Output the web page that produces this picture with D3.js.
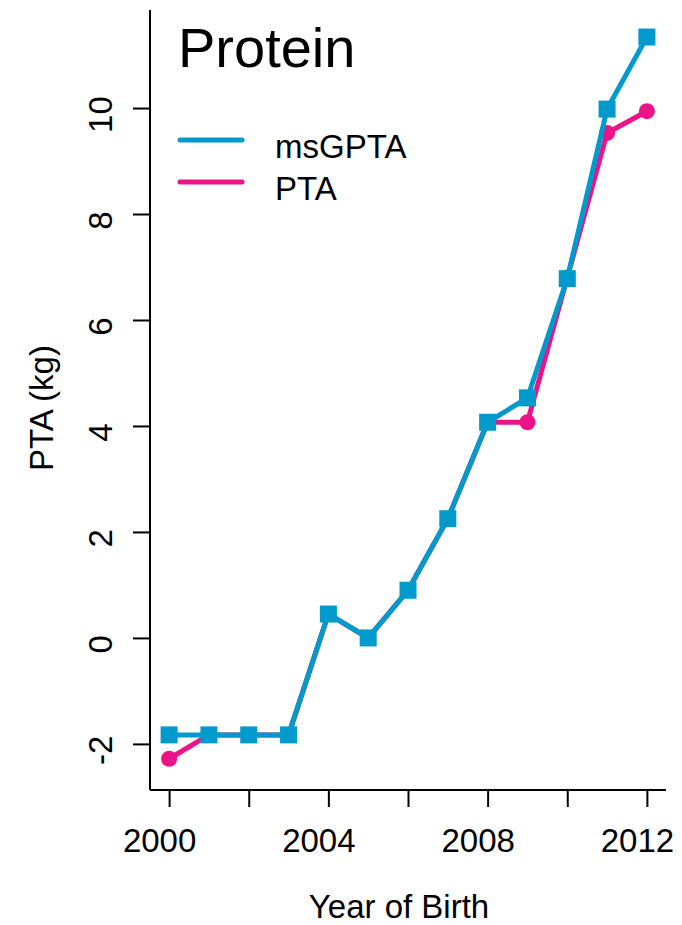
<!DOCTYPE html>
<html>
<head>
<meta charset="utf-8">
<script src="https://cdn.jsdelivr.net/npm/d3@7"></script>
<style>
  body { margin: 0; background: #fff; }
  svg text { font-family: "Liberation Sans", Arial, sans-serif; fill: #000; }
</style>
</head>
<body>
<svg width="682" height="925"></svg>
<script>
// data
var years = [2000, 2001, 2002, 2003, 2004, 2005, 2006, 2007, 2008, 2009, 2010, 2011, 2012];
var pta = [-2.28, -1.83, -1.83, -1.83, 0.45, 0.0, 0.9, 2.25, 4.07, 4.07, 6.8, 9.53, 9.94];
var msgpta = [-1.83, -1.83, -1.83, -1.83, 0.45, 0.0, 0.9, 2.25, 4.07, 4.53, 6.78, 9.98, 11.34];
var xTicks = [2000, 2002, 2004, 2006, 2008, 2010, 2012];
var xLabels = [2000, 2004, 2008, 2012];
var yTicks = [-2, 0, 2, 4, 6, 8, 10];

var blue = "#009ACD",   // deepskyblue3
    pink = "#EE1289";   // deeppink2

var svg = d3.select("svg"),
    pLeft = 150, pRight = 666, pTop = 10, pBottom = 790,
    fs = 33;

var x = d3.scaleLinear().domain([1999.52, 2012.48]).range([pLeft, pRight]),
    y = d3.scaleLinear().domain([-2.87, 11.85]).range([pBottom, pTop]);

// axes
var xAxis = svg.append("g")
    .attr("transform", "translate(0," + pBottom + ")")
    .call(d3.axisBottom(x).tickValues(xTicks).tickSize(17).tickSizeOuter(0)
        .tickFormat(function(d) { return xLabels.indexOf(d) >= 0 ? String(d) : ""; }));
xAxis.select(".domain").attr("d", "M" + pLeft + ",0H" + pRight);
xAxis.selectAll("line, path").attr("stroke", "#000").attr("stroke-width", 2);
xAxis.selectAll("text").attr("font-size", fs).attr("dy", null).attr("y", 62).attr("dx", -10);

var yAxis = svg.append("g")
    .attr("transform", "translate(" + pLeft + ",0)")
    .call(d3.axisLeft(y).tickValues(yTicks).tickSize(17).tickSizeOuter(0)
        .tickFormat(function(d) { return String(d); }));
yAxis.select(".domain").attr("d", "M0," + pTop + "V" + pBottom);
yAxis.selectAll("line, path").attr("stroke", "#000").attr("stroke-width", 2);
yAxis.selectAll("text")
    .attr("font-size", fs)
    .attr("x", null).attr("dy", null)
    .attr("text-anchor", "middle")
    .attr("transform", "translate(-38,6) rotate(-90)");

svg.selectAll(".domain").attr("fill", "none");

// axis titles
svg.append("text")
    .attr("x", (pLeft + pRight) / 2 - 9).attr("y", 918)
    .attr("text-anchor", "middle").attr("font-size", fs)
    .text("Year of Birth");
svg.append("text")
    .attr("transform", "translate(53," + 408 + ") rotate(-90)")
    .attr("text-anchor", "middle").attr("font-size", fs)
    .text("PTA (kg)");

// lines
var line = d3.line()
    .x(function(d, i) { return x(years[i]); })
    .y(function(d) { return y(d); });

svg.append("path").datum(pta)
    .attr("d", line).attr("fill", "none")
    .attr("stroke", pink).attr("stroke-width", 5);
svg.selectAll("circle.pta").data(pta).enter().append("circle")
    .attr("class", "pta")
    .attr("cx", function(d, i) { return x(years[i]); })
    .attr("cy", function(d) { return y(d); })
    .attr("r", 8).attr("fill", pink);

svg.append("path").datum(msgpta)
    .attr("d", line).attr("fill", "none")
    .attr("stroke", blue).attr("stroke-width", 5);
svg.selectAll("rect.ms").data(msgpta).enter().append("rect")
    .attr("class", "ms")
    .attr("x", function(d, i) { return x(years[i]) - 8.5; })
    .attr("y", function(d) { return y(d) - 8.5; })
    .attr("width", 17).attr("height", 17).attr("fill", blue);

// title + legend
svg.append("text")
    .attr("x", 178).attr("y", 67)
    .attr("font-size", 56)
    .text("Protein");

var legend = [{name: "msGPTA", col: blue}, {name: "PTA", col: pink}];
var lg = svg.selectAll("g.legend").data(legend).enter().append("g")
    .attr("class", "legend")
    .attr("transform", function(d, i) { return "translate(0," + (140 + i * 42) + ")"; });
lg.append("line")
    .attr("x1", 180).attr("x2", 242)
    .attr("stroke", function(d) { return d.col; })
    .attr("stroke-width", 5).attr("stroke-linecap", "round");
lg.append("text")
    .attr("x", 275).attr("y", 18)
    .attr("font-size", fs)
    .text(function(d) { return d.name; });
</script>
</body>
</html>
